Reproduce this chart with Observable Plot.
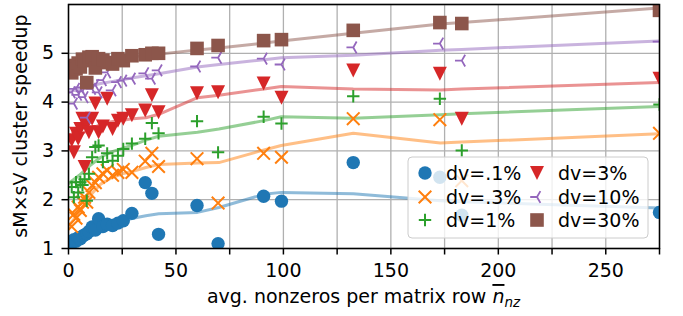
<!DOCTYPE html>
<html><head><meta charset="utf-8">
<script src="https://cdn.jsdelivr.net/npm/d3@7"></script>
<script src="https://cdn.jsdelivr.net/npm/@observablehq/plot@0.6"></script>
<style>body{margin:0;background:#fff} svg{display:block}</style>
</head><body><div id="chart"></div>
<script>
// matrices: average nonzeros per row
const nnz = [1.5, 2.5, 3.5, 4.5, 5.5, 6.5, 7.5, 8.5, 9.5, 11, 12.5, 14, 16, 18, 20.5, 23, 25.5, 29.5, 35.7, 38.8, 41.9, 59.8, 69.6, 90.8, 99.1, 132.5, 172.8, 183, 275];
const dv01 = [1.12, 1.18, 1.15, 1.22, 1.20, 1.25, 1.28, 1.30, 1.35, 1.44, 1.38, 1.61, 1.45, 1.50, 1.47, 1.52, 1.57, 1.72, 2.35, 2.13, 1.29, 1.88, 1.10, 2.07, 1.97, 2.76, 2.46, 1.68, 1.74];
const dv03 = [1.45, 1.70, 1.62, 1.85, 1.78, 1.95, 2.05, 1.95, 2.15, 2.29, 2.35, 2.46, 2.53, 2.60, 2.50, 2.56, 2.62, 2.56, 2.79, 2.95, 2.68, 2.84, 1.93, 2.95, 2.87, 3.66, 3.64, 2.39, 3.36];
const dv1  = [2.26, 2.05, 2.36, 2.15, 2.36, 2.30, 2.42, 1.98, 2.53, 2.87, 3.08, 3.11, 2.77, 2.95, 2.80, 2.90, 3.04, 3.15, 3.25, 3.57, 3.36, 3.61, 2.97, 3.70, 3.56, 4.12, 4.07, 3.01, 3.95];
const dv3  = [3.22, 2.97, 3.35, 3.25, 3.45, 3.66, 2.67, 3.55, 3.38, 3.66, 3.97, 3.38, 3.50, 4.07, 3.45, 3.62, 3.66, 3.73, 3.83, 4.14, 3.79, 4.18, 4.20, 4.38, 4.09, 4.65, 4.58, 3.66, 4.48];
const dv10 = [4.20, 3.97, 4.27, 4.15, 4.30, 4.22, 4.10, 3.68, 4.41, 4.27, 4.35, 4.20, 4.45, 4.61, 4.24, 4.41, 4.44, 4.48, 4.59, 4.48, 4.65, 4.73, 4.91, 4.89, 4.77, 5.12, 5.20, 4.85, 5.24];
const dv30 = [4.60, 4.75, 4.68, 4.80, 4.72, 4.88, 4.85, 4.40, 4.92, 4.93, 4.70, 4.89, 4.86, 4.81, 4.78, 4.89, 4.85, 4.95, 4.97, 5.00, 5.00, 5.10, 5.16, 5.26, 5.28, 5.47, 5.63, 5.61, 5.88];

// trend lines
const trendNnz = [0, 5, 10, 15, 20, 25, 30, 36, 42, 60, 70, 91, 99, 132.5, 173, 183, 275];
const trend01 = [1.15, 1.22, 1.33, 1.43, 1.50, 1.56, 1.62, 1.67, 1.71, 1.74, 1.84, 2.11, 2.15, 2.12, 1.98, 1.96, 1.83];
const trend03 = [1.45, 1.75, 2.08, 2.32, 2.45, 2.53, 2.58, 2.66, 2.72, 2.75, 2.76, 3.02, 3.11, 3.36, 3.16, 3.18, 3.35];
const trend1  = [2.33, 2.50, 2.70, 2.87, 2.98, 3.05, 3.12, 3.22, 3.30, 3.38, 3.45, 3.62, 3.70, 3.67, 3.74, 3.76, 3.91];
const trend3  = [3.20, 3.32, 3.45, 3.54, 3.60, 3.63, 3.66, 3.68, 3.75, 4.09, 4.14, 4.27, 4.32, 4.27, 4.25, 4.27, 4.40];
const trend10 = [4.20, 4.27, 4.33, 4.38, 4.42, 4.46, 4.50, 4.54, 4.58, 4.72, 4.77, 4.87, 4.91, 4.96, 5.06, 5.08, 5.25];
const trend30 = [4.72, 4.77, 4.82, 4.85, 4.88, 4.90, 4.93, 4.96, 4.98, 5.07, 5.11, 5.21, 5.25, 5.41, 5.60, 5.63, 5.93];

const seriesLabels = ["dv=.1%", "dv=.3%", "dv=1%", "dv=3%", "dv=10%", "dv=30%"];
const seriesColors = ["#1f77b4", "#ff7f0e", "#2ca02c", "#d62728", "#9467bd", "#8c564b"];
const xTicks = [0, 25, 50, 75, 100, 125, 150, 175, 200, 225, 250, 275];
const yTicks = [1, 2, 3, 4, 5];

const rad = s => Math.sqrt(s / Math.PI);
const SYM = {
  circle: {draw(c, s) { const r = rad(s); c.moveTo(r, 0); c.arc(0, 0, r, 0, 2 * Math.PI); c.closePath(); }},
  times: {draw(c, s) { const h = rad(s); c.moveTo(-h, -h); c.lineTo(h, h); c.moveTo(-h, h); c.lineTo(h, -h); }},
  plus: {draw(c, s) { const h = rad(s); c.moveTo(-h, 0); c.lineTo(h, 0); c.moveTo(0, -h); c.lineTo(0, h); }},
  tridown: {draw(c, s) { const h = rad(s); c.moveTo(-h, -h); c.lineTo(h, -h); c.lineTo(0, h); c.closePath(); }},
  trileft: {draw(c, s) { const h = rad(s); c.moveTo(0, 0); c.lineTo(-h, 0); c.moveTo(0, 0); c.lineTo(0.5 * h, -0.866 * h); c.moveTo(0, 0); c.lineTo(0.5 * h, 0.866 * h); }},
  square: {draw(c, s) { const h = rad(s); c.rect(-h, -h, 2 * h, 2 * h); }}
};
const markerStyle = [
  {sym: SYM.circle, r: 6.7, filled: true},
  {sym: SYM.times, r: 6.3, filled: false, sw: 2},
  {sym: SYM.plus, r: 6.2, filled: false, sw: 2},
  {sym: SYM.tridown, r: 7.0, filled: true},
  {sym: SYM.trileft, r: 6.8, filled: false, sw: 1.8},
  {sym: SYM.square, r: 6.8, filled: true}
];

const values = [dv01, dv03, dv1, dv3, dv10, dv30];
const trends = [trend01, trend03, trend1, trend3, trend10, trend30];

const lineMarks = trends.map((t, k) =>
  Plot.line(trendNnz.map((x, i) => ({x, y: t[i]})), {
    x: "x", y: "y", stroke: seriesColors[k], strokeWidth: 3, strokeOpacity: 0.5, clip: true
  }));
const dotMarks = values.map((v, k) => {
  const m = markerStyle[k];
  const data = nnz.map((x, i) => ({x, y: v[i]}));
  return Plot.dot(data, {
    x: "x", y: "y", symbol: m.sym, r: m.r,
    fill: m.filled ? seriesColors[k] : "none",
    stroke: m.filled ? "none" : seriesColors[k],
    strokeWidth: m.sw || 0, clip: true
  });
});

const chart = Plot.plot({
  width: 683, height: 316,
  marginLeft: 68, marginRight: 24, marginTop: 4, marginBottom: 68,
  style: {fontFamily: "DejaVu Sans", fontSize: "19px", background: "white", color: "black", overflow: "visible"},
  x: {domain: [0, 275]},
  y: {domain: [1, 6]},
  marks: [
    Plot.gridX(xTicks, {stroke: "#b0b0b0", strokeOpacity: 1, strokeWidth: 1.3}),
    Plot.gridY([1, 2, 3, 4, 5, 6], {stroke: "#b0b0b0", strokeOpacity: 1, strokeWidth: 1.3}),
    ...lineMarks,
    ...dotMarks,
    Plot.frame({stroke: "black", strokeWidth: 1.5}),
    Plot.axisX(xTicks, {tickSize: 6.5, tickPadding: 8, strokeWidth: 1.5, fontSize: 19,
      tickFormat: d => d % 50 === 0 ? String(d) : "", label: null}),
    Plot.axisY(yTicks, {tickSize: 6.5, tickPadding: 8, strokeWidth: 1.5, fontSize: 19, label: null})
  ]
});
document.getElementById("chart").appendChild(chart);

// legend and axis titles
const svg = d3.select(chart);
const lg = svg.append("g").attr("font-family", "DejaVu Sans").attr("font-size", 19).attr("text-anchor", "start");
lg.append("rect").attr("x", 408).attr("y", 157).attr("width", 240).attr("height", 81)
  .attr("rx", 4).attr("fill", "white").attr("fill-opacity", 0.8)
  .attr("stroke", "#cccccc").attr("stroke-width", 1);
const colX = [425, 537], rowY = [173, 197, 220];
seriesLabels.forEach((lab, k) => {
  const cx = colX[Math.floor(k / 3)], cy = rowY[k % 3];
  const m = markerStyle[k];
  const p = d3.path();
  m.sym.draw(p, m.r * m.r * Math.PI);
  lg.append("path").attr("d", p.toString()).attr("transform", `translate(${cx},${cy})`)
    .attr("fill", m.filled ? seriesColors[k] : "none")
    .attr("stroke", m.filled ? "none" : seriesColors[k])
    .attr("stroke-width", m.sw || 0);
  lg.append("text").attr("x", cx + 21).attr("y", cy).attr("dy", "0.36em")
    .attr("text-anchor", "start").attr("fill", "black").text(lab);
});

const xl = svg.append("text").attr("x", 363.5).attr("y", 303).attr("text-anchor", "middle")
  .attr("font-family", "DejaVu Sans").attr("font-size", 19).attr("fill", "black");
xl.append("tspan").text("avg. nonzeros per matrix row ");
xl.append("tspan").attr("font-style", "italic").attr("text-decoration", "overline").text("n");
xl.append("tspan").attr("font-style", "italic").attr("font-size", 13.5).attr("dy", 4).text("nz");

svg.append("text").attr("transform", "translate(20,126) rotate(-90)").attr("text-anchor", "middle")
  .attr("dy", "0.36em").attr("font-family", "DejaVu Sans").attr("font-size", 19).attr("fill", "black")
  .text("sM×sV cluster speedup");
</script>
</body></html>
